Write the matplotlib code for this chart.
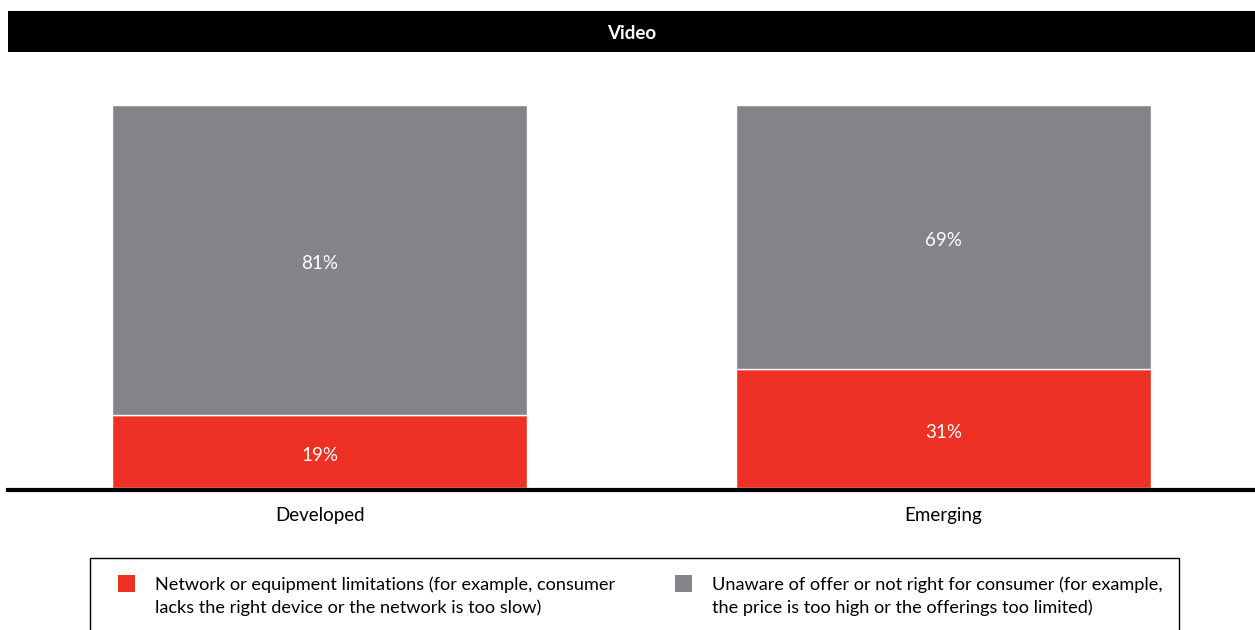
import matplotlib
matplotlib.use("Agg")
import matplotlib.pyplot as plt
from matplotlib.patches import Rectangle

plt.rcParams["font.family"] = ["Lato", "DejaVu Sans"]

title = "Video"
categories = ["Developed", "Emerging"]
network_pct = [19, 31]
unaware_pct = [81, 69]
series_labels = [
    "Network or equipment limitations (for example, consumer\nlacks the right device or the network is too slow)",
    "Unaware of offer or not right for consumer (for example,\nthe price is too high or the offerings too limited)",
]

RED = "#EE3124"
GREY = "#838488"

W, H = 1255, 630
fig = plt.figure(figsize=(W / 100, H / 100), dpi=100)

# Plot area: bars fill the full 0-100 range
ax = fig.add_axes([8 / W, 1 - 488 / H, 1247 / W, (488 - 105) / H])
x = list(range(len(categories)))
b1 = ax.bar(x, network_pct, width=0.666, color=RED, edgecolor="white", linewidth=1)
b2 = ax.bar(x, unaware_pct, bottom=network_pct, width=0.666, color=GREY,
            edgecolor="white", linewidth=1)
for bars, vals in ((b1, network_pct), (b2, unaware_pct)):
    labels = ax.bar_label(bars, labels=[f"{v}%" for v in vals],
                          label_type="center", padding=-1.5,
                          color="white", fontsize=13.5)
    for t in labels:
        t.set_va("center_baseline")

ax.set_xlim(-0.5, 1.5)
ax.set_ylim(0, 100)
ax.set_yticks([])
ax.set_xticks(x, categories)
ax.tick_params(axis="x", length=0, pad=12.5, labelsize=13.5)
for side in ("top", "right", "left"):
    ax.spines[side].set_visible(False)
ax.spines["bottom"].set_linewidth(3)
ax.spines["bottom"].set_position(("outward", 1.5))

# Title banner
fig.patches.append(Rectangle((8 / W, 1 - 52 / H), 1247 / W, 41 / H,
                             transform=fig.transFigure, facecolor="black",
                             edgecolor="none"))
fig.text(632 / W, 1 - 32 / H, title, color="white", fontsize=13.5,
         fontweight="bold", ha="center", va="center_baseline")

# Legend box
fig.patches.append(Rectangle((90 / W, -0.05), 1089 / W, (1 - 558 / H) + 0.05,
                             transform=fig.transFigure, facecolor="none",
                             edgecolor="black", linewidth=1))
legend_items = [(118, 155, RED), (675, 712, GREY)]
for (sq_x, tx_x, color), label in zip(legend_items, series_labels):
    fig.patches.append(Rectangle((sq_x / W, 1 - 592 / H), 17 / W, 17 / H,
                                 transform=fig.transFigure, facecolor=color,
                                 edgecolor="none"))
    fig.text(tx_x / W, 1 - 576.5 / H, label, fontsize=13.1, ha="left", va="top",
             linespacing=1.5)

fig.savefig("out.png", dpi=100)
